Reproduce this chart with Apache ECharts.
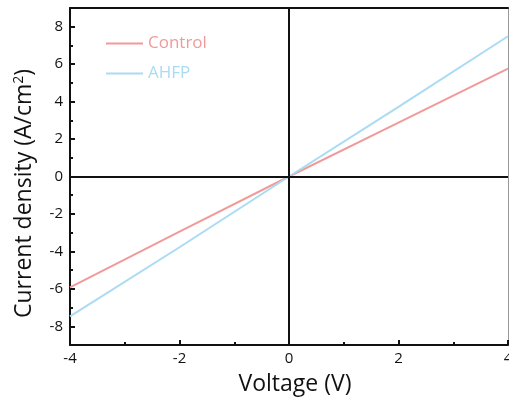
<!DOCTYPE html>
<html>
<head>
<meta charset="utf-8">
<script src="https://cdn.jsdelivr.net/npm/echarts@6/dist/echarts.min.js"></script>
<style>
  html, body { margin: 0; padding: 0; background: #fff; }
  #chart { width: 509px; height: 403px; }
</style>
</head>
<body>
<div id="chart"></div>
<script>
// J–V sweep, -4 V to 4 V
const voltage = [-4, -2, 0, 2, 4];
const controlJ = [-5.92, -2.95, 0, 2.88, 5.76];
const ahfpJ = [-7.47, -3.78, 0, 3.72, 7.49];
const yMajorTicks = [-8, -6, -4, -2, 0, 2, 4, 6, 8];
const yMinorTicks = [-9, -7, -5, -3, -1, 1, 3, 5, 7, 9];

const font = 'Open Sans';
const ink = '#111';
const red = '#f19a9a';
const blue = '#a9dcf2';

const pairs = (xs, ys) => xs.map((x, i) => [x, ys[i]]);

const chart = echarts.init(document.getElementById('chart'));
chart.setOption({
  animation: false,
  backgroundColor: '#fff',
  grid: { left: 70, right: 1, top: 8, bottom: 58, containLabel: false, outerBoundsMode: 'none' },
  legend: {
    orient: 'vertical',
    left: 106,
    top: 35,
    padding: 0,
    icon: 'rect',
    itemWidth: 37,
    itemHeight: 2,
    itemGap: 13,
    textStyle: { fontFamily: font, fontSize: 17, lineHeight: 14 },
    data: [
      { name: 'Control', textStyle: { color: red } },
      { name: 'AHFP', textStyle: { color: blue } }
    ]
  },
  xAxis: [
    {
      type: 'value', min: -4, max: 4, interval: 2, position: 'bottom',
      name: 'Voltage (V)', nameLocation: 'middle', nameGap: 28,
      nameTextStyle: { fontFamily: font, fontSize: 23, color: ink, padding: [0, 0, 0, 12] },
      axisLine: { show: true, onZero: false, lineStyle: { color: ink, width: 2 } },
      axisTick: { show: true, inside: true, length: 5, lineStyle: { color: ink, width: 2 } },
      minorTick: { show: true, splitNumber: 2, length: 3, lineStyle: { color: ink, width: 2 } },
      axisLabel: { fontFamily: font, fontSize: 15, color: ink, margin: 6 },
      splitLine: { show: false }
    },
    {
      type: 'value', min: -4, max: 4, position: 'top',
      axisLine: { show: true, onZero: false, lineStyle: { color: ink, width: 2 } },
      axisTick: { show: false }, axisLabel: { show: false }, splitLine: { show: false }
    }
  ],
  yAxis: [
    {
      type: 'value', min: -9, max: 9, position: 'left',
      name: 'Current density (A/cm{sup|2})', nameLocation: 'middle', nameGap: 34, nameRotate: 90,
      nameTextStyle: {
        fontFamily: font, fontSize: 23, color: ink, padding: [0, 34, 0, 0],
        rich: { sup: { fontFamily: font, fontSize: 14, color: ink, verticalAlign: 'top', padding: [0, 0, 10, 0] } }
      },
      axisLine: { show: true, onZero: false, lineStyle: { color: ink, width: 2 } },
      axisTick: { show: true, inside: true, length: 5, customValues: yMajorTicks, lineStyle: { color: ink, width: 2 } },
      axisLabel: { fontFamily: font, fontSize: 15, color: ink, margin: 7, customValues: yMajorTicks },
      splitLine: { show: false }
    },
    {
      type: 'value', min: -9, max: 9, position: 'left',
      axisLine: { show: false, onZero: false },
      axisTick: { show: true, inside: true, length: 3, customValues: yMinorTicks, lineStyle: { color: ink, width: 2 } },
      axisLabel: { show: false }, splitLine: { show: false }
    },
    {
      type: 'value', min: -9, max: 9, position: 'right',
      axisLine: { show: true, onZero: false, lineStyle: { color: '#999', width: 1 } },
      axisTick: { show: false }, axisLabel: { show: false }, splitLine: { show: false }
    }
  ],
  series: [
    {
      // zero cross-hair lines
      type: 'line', data: [], z: 1, silent: true,
      markLine: {
        silent: true, symbol: 'none', label: { show: false },
        lineStyle: { color: ink, width: 2, type: 'solid' },
        data: [{ xAxis: 0 }, { yAxis: 0 }]
      }
    },
    {
      name: 'Control', type: 'line', z: 3, symbol: 'none',
      data: pairs(voltage, controlJ),
      lineStyle: { color: red, width: 2 }, itemStyle: { color: red }
    },
    {
      name: 'AHFP', type: 'line', z: 3, symbol: 'none',
      data: pairs(voltage, ahfpJ),
      lineStyle: { color: blue, width: 2 }, itemStyle: { color: blue }
    }
  ]
});
</script>
</body>
</html>
